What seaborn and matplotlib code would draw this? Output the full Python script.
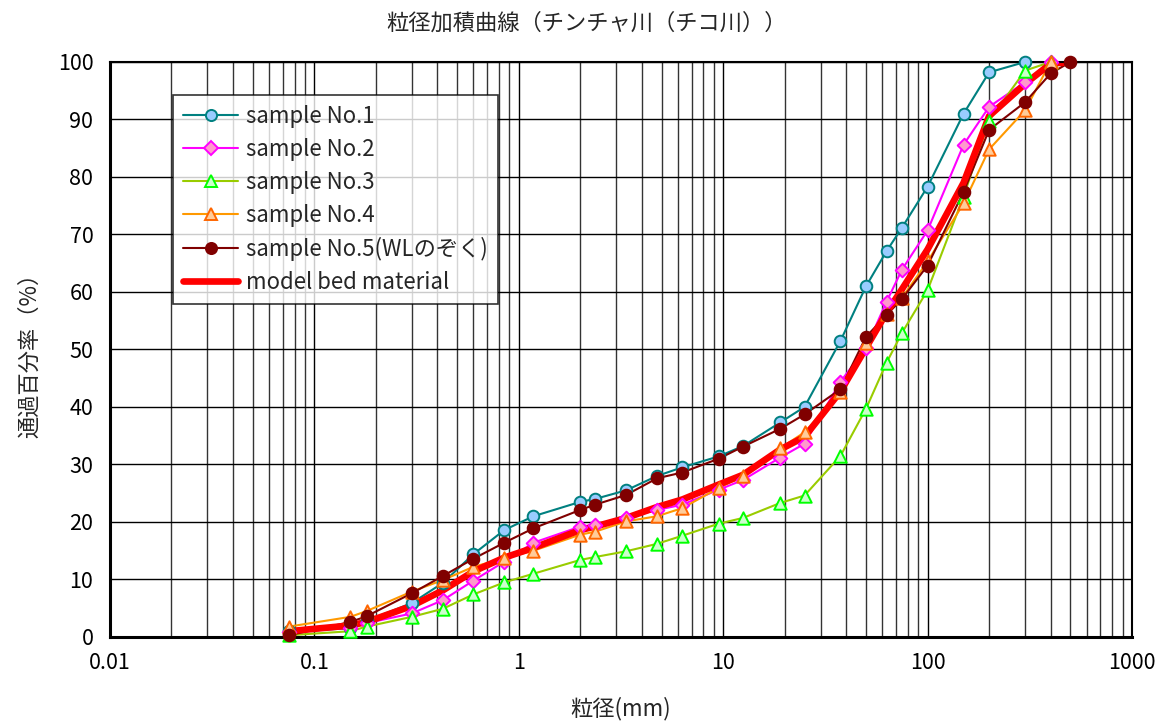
"""Grain size accumulation curve (Chincha river) recreated with seaborn."""

import matplotlib
matplotlib.use("Agg")
import matplotlib.pyplot as plt
import pandas as pd
import seaborn as sns
from matplotlib.lines import Line2D
from matplotlib.ticker import FuncFormatter, LogLocator, MultipleLocator

# ---------------------------------------------------------------------------
# Data (sieve size in mm, percent passing)
# ---------------------------------------------------------------------------
SIZES = [0.075, 0.15, 0.18, 0.3, 0.425, 0.6, 0.85, 1.18, 2, 2.36, 3.35, 4.75,
         6.3, 9.5, 12.5, 19, 25, 37.5, 50, 63, 75, 100, 150, 200, 300, 400, 500]

SAMPLE_1 = [1.0, 1.5, 2.8, 5.9, 9.4, 14.4, 18.6, 21.0, 23.5, 24.0, 25.5, 28.0,
            29.5, 31.4, 33.2, 37.3, 40.0, 51.5, 61.0, 67.1, 71.2, 78.3, 91.0,
            98.2, 100.0]
SAMPLE_2 = [0.8, 1.6, 2.4, 4.1, 6.4, 9.8, 13.1, 16.4, 19.2, 19.5, 20.7, 22.1,
            23.0, 25.6, 27.3, 31.2, 33.6, 44.4, 50.3, 58.3, 63.9, 70.7, 85.6,
            92.2, 96.5, 100.0]
SAMPLE_3 = [0.3, 1.0, 1.8, 3.5, 4.9, 7.4, 9.5, 11.0, 13.4, 13.9, 14.9, 16.2,
            17.6, 19.7, 20.7, 23.3, 24.6, 31.5, 39.7, 47.7, 52.9, 60.3, 76.6,
            89.8, 98.5, 100.0]
SAMPLE_4 = [1.8, 3.5, 4.5, 7.9, 9.9, 12.2, 13.7, 15.0, 17.8, 18.3, 20.1, 21.0,
            22.4, 25.9, 28.0, 32.8, 35.6, 42.6, 51.2, 56.1, 59.0, 65.3, 75.4,
            84.8, 91.6, 100.0]
SAMPLE_5 = [0.3, 2.6, 3.6, 7.6, 10.6, 13.6, 16.4, 18.9, 22.1, 23.0, 24.7, 27.6,
            28.6, 31.0, 33.1, 36.2, 38.7, 43.1, 52.2, 56.0, 58.8, 64.6, 77.4,
            88.2, 93.0, 98.0, 100.0]
MODEL = [1.0, 2.0, 2.6, 5.4, 8.1, 11.4, 13.8, 15.5, 18.6, 19.2, 20.7, 22.6,
         23.9, 26.5, 28.2, 32.6, 34.8, 42.7, 50.3, 56.4, 60.5, 67.4, 79.0,
         90.6, 96.2, 99.7, 100.0]

LABELS = ["sample No.1", "sample No.2", "sample No.3", "sample No.4",
          "sample No.5(WLのぞく)", "model bed material"]
X_TICKS = [0.01, 0.1, 1, 10, 100, 1000]
Y_TICKS = list(range(0, 101, 10))

TITLE = "粒径加積曲線（チンチャ川（チコ川））"
X_LABEL = "粒径(mm)"
Y_LABEL = "通過百分率（%）"

# styles: line colour, marker, face, edge
STYLES = [
    dict(line="#008080", marker="o", face="#99ccff", edge="#008080"),
    dict(line="#ff00ff", marker="D", face="#ff99cc", edge="#ff00ff"),
    dict(line="#99cc00", marker="^", face="#ccffcc", edge="#00ff00"),
    dict(line="#ff9900", marker="^", face="#ffcc99", edge="#ff6600"),
    dict(line="#800000", marker="o", face="#800000", edge="#800000"),
]
MARKER_SIZE = {"o": 70, "D": 48, "^": 80}

sns.set_theme(style="white")
plt.rcParams["font.family"] = ["Noto Sans CJK JP", "DejaVu Sans"]

fig = plt.figure(figsize=(11.61, 7.24), dpi=100)
ax = fig.add_axes([0.0947, 0.1202, 0.8803, 0.7942])

samples = [SAMPLE_1, SAMPLE_2, SAMPLE_3, SAMPLE_4, SAMPLE_5]

# lines first (Excel draws all lines below all markers)
for vals, st in zip(samples, STYLES):
    df = pd.DataFrame({"size": SIZES[:len(vals)], "pct": vals})
    sns.lineplot(data=df, x="size", y="pct", ax=ax, color=st["line"],
                 linewidth=1.5, errorbar=None, zorder=2)

df_model = pd.DataFrame({"size": SIZES[:len(MODEL)], "pct": MODEL})
sns.lineplot(data=df_model, x="size", y="pct", ax=ax, color="#ff0000",
             linewidth=4.8, errorbar=None, zorder=2.5)

# markers on top
for vals, st in zip(samples, STYLES):
    df = pd.DataFrame({"size": SIZES[:len(vals)], "pct": vals})
    sns.scatterplot(data=df, x="size", y="pct", ax=ax, marker=st["marker"],
                    s=MARKER_SIZE[st["marker"]], color=st["face"],
                    edgecolor=st["edge"], linewidth=1.4, zorder=3,
                    clip_on=False)

ax.set_xscale("log")
ax.set_xlim(0.01, 1000)
ax.set_ylim(0, 100)
ax.xaxis.set_major_locator(LogLocator(base=10))
ax.xaxis.set_minor_locator(LogLocator(base=10, subs=range(2, 10)))
ax.xaxis.set_major_formatter(FuncFormatter(lambda v, _: f"{v:g}"))
ax.set_xticks(X_TICKS)
ax.set_yticks(Y_TICKS)
ax.yaxis.set_minor_locator(MultipleLocator(10))

ax.grid(which="major", axis="both", color="black", linewidth=1.0, zorder=0)
ax.grid(which="minor", axis="x", color="#333333", linewidth=1.0, zorder=0)
ax.set_axisbelow(True)

ax.tick_params(axis="both", which="both", length=0)
ax.tick_params(axis="x", labelsize=15.5, pad=11, colors="black")
ax.tick_params(axis="y", labelsize=15.5, pad=12, colors="black")

for side in ["left", "bottom"]:
    ax.spines[side].set_linewidth(2.2)
    ax.spines[side].set_color("black")
for side in ["top", "right"]:
    ax.spines[side].set_linewidth(1.5)
    ax.spines[side].set_color("black")

fig.text(0.505, 0.968, TITLE, fontsize=16, ha="center", va="center")
ax.set_xlabel(X_LABEL, fontsize=16, labelpad=16)
ax.set_ylabel(Y_LABEL, fontsize=16, labelpad=12)

handles = [
    Line2D([], [], color=st["line"], linewidth=1.5, marker=st["marker"],
           markersize=8 if st["marker"] != "D" else 7,
           markerfacecolor=st["face"], markeredgecolor=st["edge"],
           markeredgewidth=1.4)
    for st in STYLES
]
handles.append(Line2D([], [], color="#ff0000", linewidth=4.8))

leg = ax.legend(handles, LABELS, loc="upper left",
                bbox_to_anchor=(0.0616, 0.9426), borderaxespad=0,
                frameon=True, fancybox=False, fontsize=16,
                handlelength=2.5, labelspacing=0.45, borderpad=0.45,
                handletextpad=0.35)
leg.get_frame().set_edgecolor("black")
leg.get_frame().set_linewidth(1.2)
leg.set_zorder(5)

fig.savefig("out.png", dpi=100)
